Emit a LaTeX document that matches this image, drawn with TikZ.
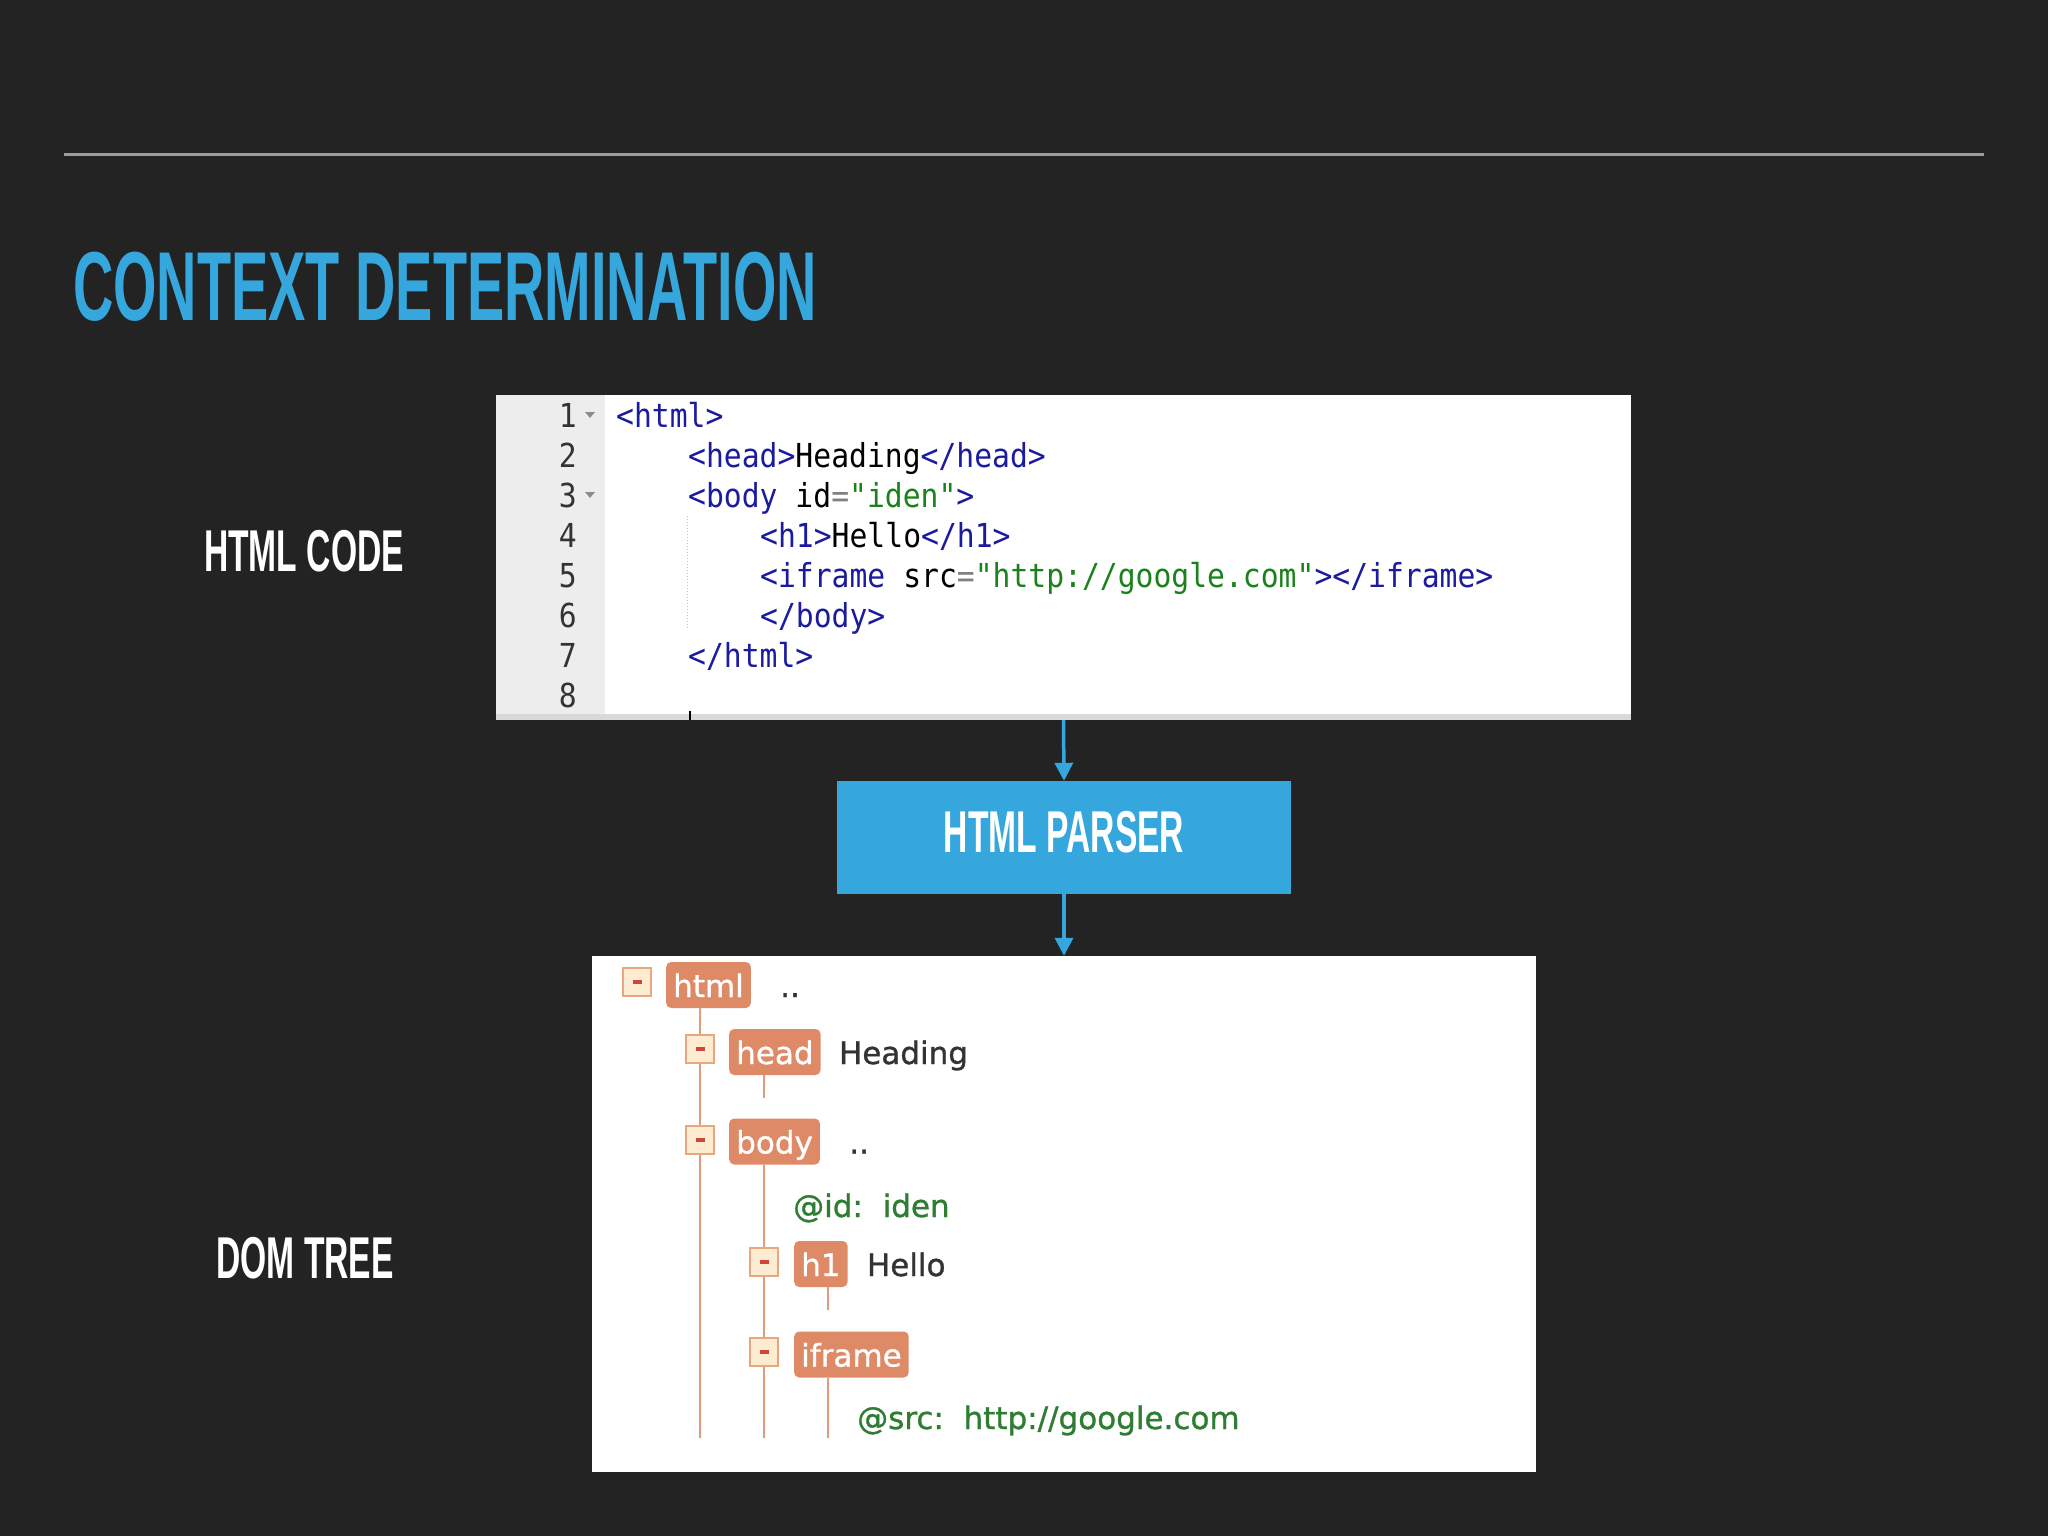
\documentclass[tikz,border=0pt]{standalone}
\usepackage{fontspec}
\setmonofont{DejaVu Sans Mono}[FakeStretch=0.9]
\newfontfamily\dinfont{Liberation Sans}[FakeStretch=0.57]
\newfontfamily\treefont{DejaVu Sans}[FakeBold=1]
\usetikzlibrary{positioning,arrows.meta}

\definecolor{slidebg}{HTML}{232323}
\definecolor{rulegray}{HTML}{9C9C9C}
\definecolor{titleblue}{HTML}{35A7DD}
\definecolor{gutter}{HTML}{EDEDED}
\definecolor{tagblue}{HTML}{1B1BA0}
\definecolor{valgreen}{HTML}{1B821B}
\definecolor{eqgray}{HTML}{808080}
\definecolor{tagorange}{HTML}{DF8A67}
\definecolor{lineorange}{HTML}{E49B7C}
\definecolor{minusfill}{HTML}{FDEBD2}
\definecolor{minusedge}{HTML}{E9A77E}
\definecolor{minusred}{HTML}{D0453C}
\definecolor{attrgreen}{HTML}{2E7D32}
\definecolor{treetext}{HTML}{333333}

\newcommand{\tagc}[1]{\textcolor{tagblue}{#1}}
\newcommand{\valc}[1]{\textcolor{valgreen}{#1}}
\newcommand{\eqc}{\textcolor{eqgray}{=}}
\newcommand{\minusbar}{\textcolor{minusred}{\rule{9pt}{4pt}}}

\begin{document}
\begin{tikzpicture}[x=1pt, y=-1pt,
    sidelabel/.style = {text=white, font=\dinfont\bfseries\fontsize{59}{59}\selectfont},
    codeline/.style = {anchor=base west, inner sep=0pt, font=\ttfamily\fontsize{33}{33}\selectfont},
    lineno/.style = {anchor=base east, inner sep=0pt, text=treetext, font=\ttfamily\fontsize{33}{33}\selectfont},
    flow/.style = {titleblue, line width=3.5pt, -{Triangle[width=18pt,length=18pt]}},
    tagnode/.style = {rectangle, rounded corners=5pt, fill=tagorange, text=white, anchor=west,
      inner xsep=7pt, inner ysep=9pt, text height=26pt, text depth=2pt, font=\treefont\fontsize{31}{31}\selectfont},
    minus/.style = {rectangle, fill=minusfill, draw=minusedge, line width=1.5pt, minimum size=28pt, inner sep=0pt},
    treetxt/.style = {text=treetext, inner sep=0pt, text height=26pt, text depth=2pt, font=\treefont\fontsize{31}{31}\selectfont},
    attr/.style = {text=attrgreen, anchor=base west, inner sep=0pt, font=\treefont\fontsize{31}{31}\selectfont},
    treeline/.style = {lineorange, line width=2pt}]

   % slide
   \fill[slidebg] (0,0) rectangle (2048,1536);
   \useasboundingbox (0,0) rectangle (2048,1536);
   \draw[rulegray, line width=3pt] (64,155) -- (1984,155);
   \node[anchor=base west, inner sep=0pt, text=titleblue, font=\dinfont\bfseries\fontsize{98}{98}\selectfont] (title) at (73,320) {CONTEXT DETERMINATION};

   \node[sidelabel] (codelbl) at (304,551) {HTML CODE};
   \node[sidelabel] (domlbl)  at (305,1258) {DOM TREE};

   % editor
   \node[fill=white, minimum width=1135pt, minimum height=325pt, inner sep=0pt] (codebox) at (1063.5,557.5) {};
   \fill[gutter] (codebox.north west) rectangle (605,714);
   \fill[black!15] (496,714) rectangle (codebox.south east);
   \draw[black, line width=2pt] (690,711) -- (690,720);
   \draw[black!25, dotted, line width=1pt] (687,516) -- (687,630);
   \fill[black!45] (585,412) -- (595,412) -- (590,418) -- cycle;
   \fill[black!45] (585,492) -- (595,492) -- (590,498) -- cycle;

   \node[lineno] (ln1) at (577,427) {1};
   \node[lineno] (ln2) at (577,467) {2};
   \node[lineno] (ln3) at (577,507) {3};
   \node[lineno] (ln4) at (577,547) {4};
   \node[lineno] (ln5) at (577,587) {5};
   \node[lineno] (ln6) at (577,627) {6};
   \node[lineno] (ln7) at (577,667) {7};
   \node[lineno] (ln8) at (577,707) {8};

   \node[codeline] (code1) at (616,427) {\tagc{<html>}};
   \node[codeline] (code2) at (688,467) {\tagc{<head>}Heading\tagc{</head>}};
   \node[codeline] (code3) at (688,507) {\tagc{<body} id\eqc\valc{"iden"}\tagc{>}};
   \node[codeline] (code4) at (760,547) {\tagc{<h1>}Hello\tagc{</h1>}};
   \node[codeline] (code5) at (760,587) {\tagc{<iframe} src\eqc\valc{"http://google.com"}\tagc{></iframe>}};
   \node[codeline] (code6) at (760,627) {\tagc{</body>}};
   \node[codeline] (code7) at (688,667) {\tagc{</html>}};

   % parser
   \node[fill=titleblue, minimum width=454pt, minimum height=113pt, text=white, text height=42pt, text depth=13pt,
     font=\dinfont\bfseries\fontsize{59}{59}\selectfont] (parser) at (1064,837.5) {HTML PARSER};

   \node[fill=white, minimum width=944pt, minimum height=516pt, inner sep=0pt] (dombox) at (1064,1214) {};

   \draw[flow] (codebox.south) -- (parser.north);
   \draw[flow] (parser.south) -- (dombox.north);

   % tree
   \node[minus] (htmlmin) at (637,982) {\minusbar};
   \node[tagnode] (htmltag) at (666,985) {html};
   \node[treetxt, right=29pt of htmltag] (htmldots) {..};

   \node[minus] (headmin) at (700,1049) {\minusbar};
   \node[tagnode] (headtag) at (729,1052) {head};
   \node[treetxt, right=18pt of headtag] (headtxt) {Heading};

   \node[minus] (bodymin) at (700,1140) {\minusbar};
   \node[tagnode] (bodytag) at (729,1141.5) {body};
   \node[treetxt, right=29pt of bodytag] (bodydots) {..};
   \node[attr] (idattr) at (793,1217) {@id:~~iden};

   \node[minus] (h1min) at (764,1262) {\minusbar};
   \node[tagnode] (h1tag) at (794,1264) {h1};
   \node[treetxt, right=19pt of h1tag] (h1txt) {Hello};

   \node[minus] (iframemin) at (764,1352) {\minusbar};
   \node[tagnode] (iframetag) at (794,1354.5) {iframe};
   \node[attr] (srcattr) at (857,1429) {@src:~~http://google.com};

   \coordinate (htmlend) at (700,1438);
   \coordinate (headend) at (764,1098);
   \coordinate (bodyend) at (764,1438);
   \coordinate (h1end) at (828,1310);
   \coordinate (iframeend) at (828,1438);

   \draw[treeline] (htmltag.south -| headmin) -- (headmin.north);
   \draw[treeline] (headmin.south) -- (bodymin.north);
   \draw[treeline] (bodymin.south) -- (htmlend);
   \draw[treeline] (headtag.south -| headend) -- (headend);
   \draw[treeline] (bodytag.south -| h1min) -- (h1min.north);
   \draw[treeline] (h1min.south) -- (iframemin.north);
   \draw[treeline] (iframemin.south) -- (bodyend);
   \draw[treeline] (h1tag.south -| h1end) -- (h1end);
   \draw[treeline] (iframetag.south -| iframeend) -- (iframeend);

\end{tikzpicture}
\end{document}
